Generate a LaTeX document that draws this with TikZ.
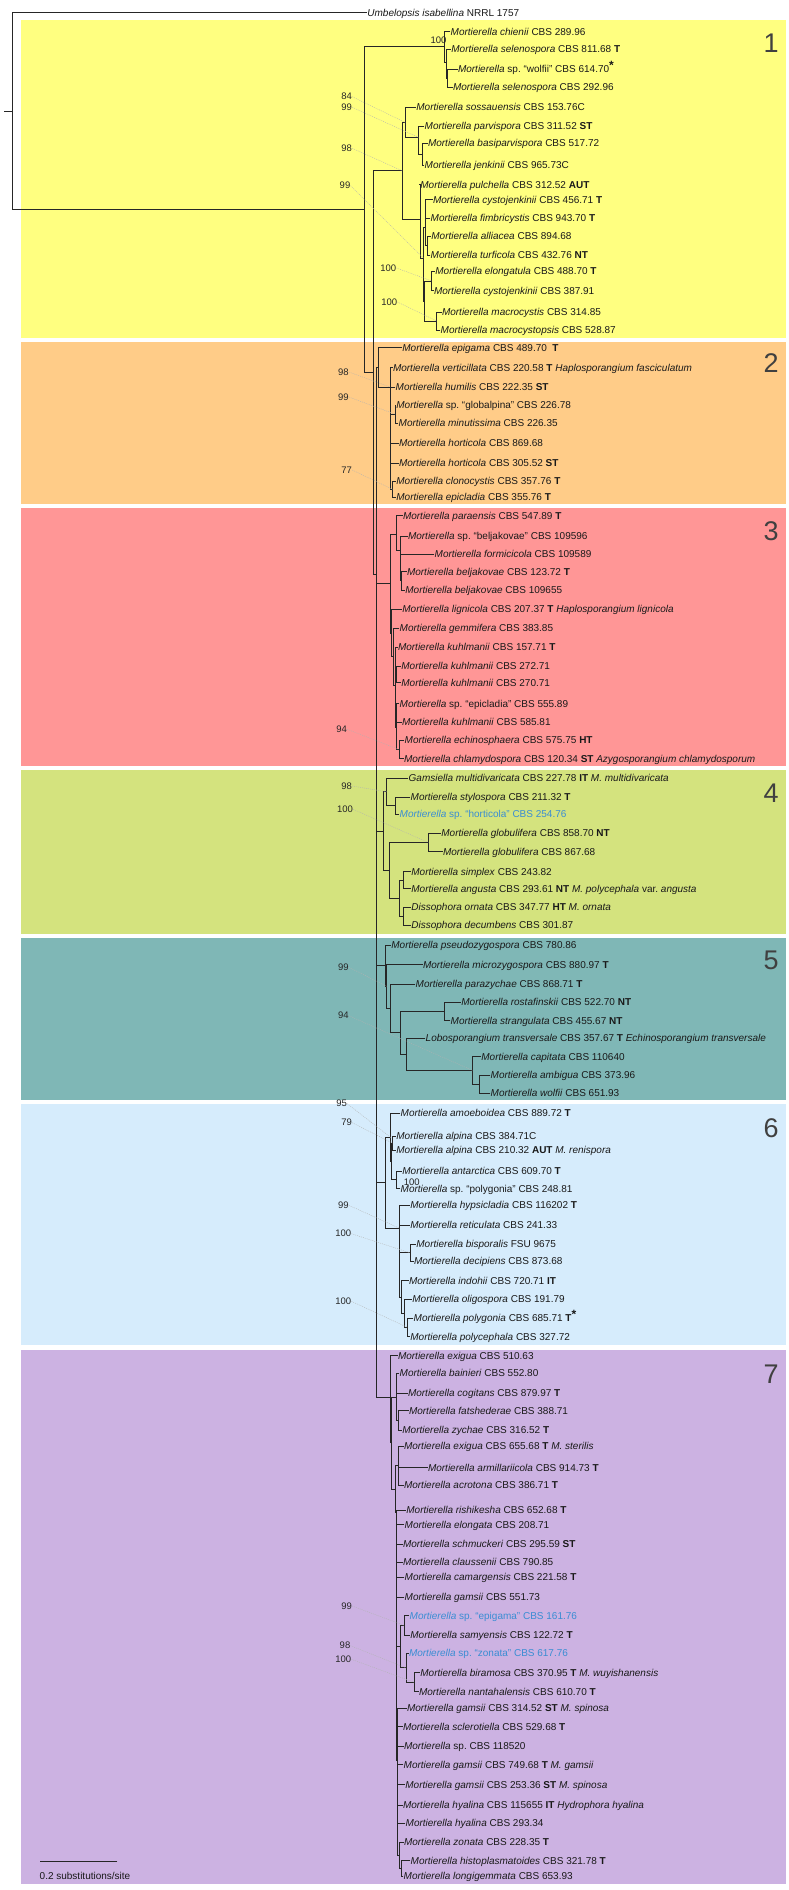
\documentclass[tikz,border=0pt]{standalone}
\usepackage{fontspec}
\setmainfont{Liberation Sans}
\usetikzlibrary{calc}
\frenchspacing
\definecolor{cyel}{HTML}{FFFF80}
\definecolor{cora}{HTML}{FFCC88}
\definecolor{cred}{HTML}{FF9696}
\definecolor{cgrn}{HTML}{D4E37E}
\definecolor{ctea}{HTML}{7FB7B6}
\definecolor{cblu}{HTML}{D6ECFC}
\definecolor{cpur}{HTML}{CCB2E2}
\definecolor{tblue}{HTML}{3A8DD3}
\newcommand\tn[5]{\coordinate (#1) at (#2,#3); \draw[branch] (#1 |- #4) -- (#1 |- #5);}
\newcommand\kids[2]{\foreach \ch in {#2}{\draw[branch] (#1 |- \ch) -- (\ch);}}
\newcommand\lf[4]{\node[leaf] (#1) at ({#2-1},#3) {#4};}
\newcommand\bs[4]{\node[bsv] (#1) at (#2,#3) {#4};}
\newcommand\Mi[1]{\textit{Mortierella #1}}
\newcommand\Ms{\textit{Mortierella} sp.}
\newcommand\bstar{\raisebox{2.6pt}{\fontsize{12}{12}\selectfont\textbf{*}}}
\begin{document}
\frenchspacing
\begin{tikzpicture}[x=1pt,y=-1pt,
 branch/.style={line width=0.7pt, draw=black!85, line cap=rect},
 leaf/.style={anchor=west, inner sep=0.5pt, text height=7pt, text depth=0pt, font=\fontsize{10}{12}\selectfont\frenchspacing, text=black!90},
 bsv/.style={inner sep=0pt, font=\fontsize{9.5}{11}\selectfont, text=black!85},
 leader/.style={draw=black!30, line width=0.35pt, dash pattern=on 1pt off 1pt},
 cnum/.style={font=\fontsize{27}{30}\selectfont, text=black!75}]
\fill[white] (0,0) rectangle (789,1890);
\useasboundingbox (0,0) rectangle (789,1890);
% clade boxes
\fill[cyel] (21,20) rectangle (786,337.7);
\fill[cora] (21,341.5) rectangle (786,504);
\fill[cred] (21,507.5) rectangle (786,766.3);
\fill[cgrn] (21,770.3) rectangle (786,934);
\fill[ctea] (21,937.7) rectangle (786,1100.3);
\fill[cblu] (21,1103.8) rectangle (786,1344.5);
\fill[cpur] (21,1349.5) rectangle (786,1884);
% clade numbers
\node[cnum] (n1) at (771,43.3) {1};
\node[cnum] (n2) at (771,362.7) {2};
\node[cnum] (n3) at (771,531.3) {3};
\node[cnum] (n4) at (771,793.7) {4};
\node[cnum] (n5) at (771,960) {5};
\node[cnum] (n6) at (771,1127.7) {6};
\node[cnum] (n7) at (771,1374) {7};
% leaves
\lf{L0}{367.7}{12.7}{\textit{Umbelopsis isabellina} NRRL 1757}
\lf{L1}{451}{31.7}{\Mi{chienii} CBS 289.96}
\lf{L2}{451.7}{49.3}{\Mi{selenospora} CBS 811.68 \textbf{T}}
\lf{L3}{458.3}{69}{\Ms{} “wolfii” CBS 614.70\bstar}
\lf{L4}{453.3}{87.3}{\Mi{selenospora} CBS 292.96}
\lf{L5}{416.7}{107.3}{\Mi{sossauensis} CBS 153.76C}
\lf{L6}{425}{126}{\Mi{parvispora} CBS 311.52 \textbf{ST}}
\lf{L7}{428.3}{143.3}{\Mi{basiparvispora} CBS 517.72}
\lf{L8}{425}{165.3}{\Mi{jenkinii} CBS 965.73C}
\lf{L9}{420.7}{184.7}{\Mi{pulchella} CBS 312.52 \textbf{AUT}}
\lf{L10}{433.3}{199.7}{\Mi{cystojenkinii} CBS 456.71 \textbf{T}}
\lf{L11}{431}{218}{\Mi{fimbricystis} CBS 943.70 \textbf{T}}
\lf{L12}{431.7}{236.3}{\Mi{alliacea} CBS 894.68}
\lf{L13}{431}{255.3}{\Mi{turficola} CBS 432.76 \textbf{NT}}
\lf{L14}{435.7}{271.3}{\Mi{elongatula} CBS 488.70 \textbf{T}}
\lf{L15}{434.3}{290.7}{\Mi{cystojenkinii} CBS 387.91}
\lf{L16}{442.3}{312}{\Mi{macrocystis} CBS 314.85}
\lf{L17}{441}{330}{\Mi{macrocystopsis} CBS 528.87}
\lf{L18}{402.7}{347.7}{\Mi{epigama} CBS 489.70\ \ \textbf{T}}
\lf{L19}{393.3}{367.7}{\Mi{verticillata} CBS 220.58 \textbf{T} \textit{Haplosporangium fasciculatum}}
\lf{L20}{396}{387}{\Mi{humilis} CBS 222.35 \textbf{ST}}
\lf{L21}{396.7}{405.3}{\Ms{} “globalpina” CBS 226.78}
\lf{L22}{399}{423.3}{\Mi{minutissima} CBS 226.35}
\lf{L23}{399.3}{443.3}{\Mi{horticola} CBS 869.68}
\lf{L24}{399.3}{463}{\Mi{horticola} CBS 305.52 \textbf{ST}}
\lf{L25}{396.7}{481.3}{\Mi{clonocystis} CBS 357.76 \textbf{T}}
\lf{L26}{396.7}{497.3}{\Mi{epicladia} CBS 355.76 \textbf{T}}
\lf{L27}{403.3}{515.7}{\Mi{paraensis} CBS 547.89 \textbf{T}}
\lf{L28}{408.3}{536.3}{\Ms{} “beljakovae” CBS 109596}
\lf{L29}{435}{554}{\Mi{formicicola} CBS 109589}
\lf{L30}{407.3}{571.7}{\Mi{beljakovae} CBS 123.72 \textbf{T}}
\lf{L31}{405.7}{590}{\Mi{beljakovae} CBS 109655}
\lf{L32}{402.7}{609}{\Mi{lignicola} CBS 207.37 \textbf{T} \textit{Haplosporangium lignicola}}
\lf{L33}{400}{628}{\Mi{gemmifera} CBS 383.85}
\lf{L34}{398.3}{647}{\Mi{kuhlmanii} CBS 157.71 \textbf{T}}
\lf{L35}{401.7}{666.3}{\Mi{kuhlmanii} CBS 272.71}
\lf{L36}{401.7}{682.7}{\Mi{kuhlmanii} CBS 270.71}
\lf{L37}{400}{703.7}{\Ms{} “epicladia” CBS 555.89}
\lf{L38}{402.3}{722}{\Mi{kuhlmanii} CBS 585.81}
\lf{L39}{405}{740.3}{\Mi{echinosphaera} CBS 575.75 \textbf{HT}}
\lf{L40}{404.3}{758.7}{\Mi{chlamydospora} CBS 120.34 \textbf{ST} \textit{Azygosporangium chlamydosporum}}
\lf{L41}{409}{778}{\textit{Gamsiella multidivaricata} CBS 227.78 \textbf{IT} \textit{M. multidivaricata}}
\lf{L42}{411}{797.3}{\Mi{stylospora} CBS 211.32 \textbf{T}}
\lf{L43}{400}{814}{\color{tblue}\Ms{} “horticola” CBS 254.76}
\lf{L44}{441.7}{833.3}{\Mi{globulifera} CBS 858.70 \textbf{NT}}
\lf{L45}{443.3}{851.7}{\Mi{globulifera} CBS 867.68}
\lf{L46}{411.7}{871.7}{\Mi{simplex} CBS 243.82}
\lf{L47}{411.7}{888.7}{\Mi{angusta} CBS 293.61 \textbf{NT} \textit{M. polycephala} var. \textit{angusta}}
\lf{L48}{411.7}{907.3}{\textit{Dissophora ornata} CBS 347.77 \textbf{HT} \textit{M. ornata}}
\lf{L49}{411.7}{925.3}{\textit{Dissophora decumbens} CBS 301.87}
\lf{L50}{391.7}{945}{\Mi{pseudozygospora} CBS 780.86}
\lf{L51}{423.3}{964.7}{\Mi{microzygospora} CBS 880.97 \textbf{T}}
\lf{L52}{416}{984}{\Mi{parazychae} CBS 868.71 \textbf{T}}
\lf{L53}{461.7}{1002}{\Mi{rostafinskii} CBS 522.70 \textbf{NT}}
\lf{L54}{451}{1020.7}{\Mi{strangulata} CBS 455.67 \textbf{NT}}
\lf{L55}{426}{1038}{\textit{Lobosporangium transversale} CBS 357.67 \textbf{T} \textit{Echinosporangium transversale}}
\lf{L56}{481.7}{1056.7}{\Mi{capitata} CBS 110640}
\lf{L57}{491}{1075.3}{\Mi{ambigua} CBS 373.96}
\lf{L58}{491}{1093.3}{\Mi{wolfii} CBS 651.93}
\lf{L59}{401}{1113.3}{\Mi{amoeboidea} CBS 889.72 \textbf{T}}
\lf{L60}{396.7}{1136}{\Mi{alpina} CBS 384.71C}
\lf{L61}{396.7}{1150.3}{\Mi{alpina} CBS 210.32 \textbf{AUT} \textit{M. renispora}}
\lf{L62}{402.7}{1171}{\Mi{antarctica} CBS 609.70 \textbf{T}}
\lf{L63}{401}{1188.7}{\Ms{} “polygonia” CBS 248.81}
\lf{L64}{410.7}{1205.3}{\Mi{hypsicladia} CBS 116202 \textbf{T}}
\lf{L65}{410.7}{1225.3}{\Mi{reticulata} CBS 241.33}
\lf{L66}{416.7}{1244.3}{\Mi{bisporalis} FSU 9675}
\lf{L67}{414.3}{1261.3}{\Mi{decipiens} CBS 873.68}
\lf{L68}{409.3}{1280.7}{\Mi{indohii} CBS 720.71 \textbf{IT}}
\lf{L69}{412.7}{1299}{\Mi{oligospora} CBS 191.79}
\lf{L70}{414}{1318}{\Mi{polygonia} CBS 685.71 \textbf{T}\bstar}
\lf{L71}{410.7}{1336.7}{\Mi{polycephala} CBS 327.72}
\lf{L72}{398.3}{1355.7}{\Mi{exigua} CBS 510.63}
\lf{L73}{400}{1373.3}{\Mi{bainieri} CBS 552.80}
\lf{L74}{408.3}{1393}{\Mi{cogitans} CBS 879.97 \textbf{T}}
\lf{L75}{409.3}{1410.7}{\Mi{fatshederae} CBS 388.71}
\lf{L76}{402.7}{1430.3}{\Mi{zychae} CBS 316.52 \textbf{T}}
\lf{L77}{404.3}{1446.3}{\Mi{exigua} CBS 655.68 \textbf{T} \textit{M. sterilis}}
\lf{L78}{428.3}{1467.7}{\Mi{armillariicola} CBS 914.73 \textbf{T}}
\lf{L79}{404.3}{1485.3}{\Mi{acrotona} CBS 386.71 \textbf{T}}
\lf{L80}{406.7}{1510.3}{\Mi{rishikesha} CBS 652.68 \textbf{T}}
\lf{L81}{405}{1524.7}{\Mi{elongata} CBS 208.71}
\lf{L82}{403.3}{1544.3}{\Mi{schmuckeri} CBS 295.59 \textbf{ST}}
\lf{L83}{403.3}{1562}{\Mi{claussenii} CBS 790.85}
\lf{L84}{405}{1577}{\Mi{camargensis} CBS 221.58 \textbf{T}}
\lf{L85}{405}{1597.3}{\Mi{gamsii} CBS 551.73}
\lf{L86}{410}{1615.7}{\color{tblue}\Ms{} “epigama” CBS 161.76}
\lf{L87}{410.7}{1635}{\Mi{samyensis} CBS 122.72 \textbf{T}}
\lf{L88}{409.3}{1653.3}{\color{tblue}\Ms{} “zonata” CBS 617.76}
\lf{L89}{420.7}{1672.7}{\Mi{biramosa} CBS 370.95 \textbf{T} \textit{M. wuyishanensis}}
\lf{L90}{419.3}{1691.7}{\Mi{nantahalensis} CBS 610.70 \textbf{T}}
\lf{L91}{407.3}{1708.3}{\Mi{gamsii} CBS 314.52 \textbf{ST} \textit{M. spinosa}}
\lf{L92}{403.3}{1726.7}{\Mi{sclerotiella} CBS 529.68 \textbf{T}}
\lf{L93}{404.3}{1746.3}{\Ms{} CBS 118520}
\lf{L94}{404}{1764.7}{\Mi{gamsii} CBS 749.68 \textbf{T} \textit{M. gamsii}}
\lf{L95}{405.7}{1784.7}{\Mi{gamsii} CBS 253.36 \textbf{ST} \textit{M. spinosa}}
\lf{L96}{403.3}{1805.3}{\Mi{hyalina} CBS 115655 \textbf{IT} \textit{Hydrophora hyalina}}
\lf{L97}{406}{1823}{\Mi{hyalina} CBS 293.34}
\lf{L98}{404.3}{1842}{\Mi{zonata} CBS 228.35 \textbf{T}}
\lf{L99}{411}{1860.7}{\Mi{histoplasmatoides} CBS 321.78 \textbf{T}}
\lf{L100}{404}{1876.3}{\Mi{longigemmata} CBS 653.93}
% internal nodes (bottom-up)
\tn{A3}{447.7}{78}{L3}{L4} \kids{A3}{L3,L4}
\tn{A2}{446}{62}{L2}{A3} \kids{A2}{L2,A3}
\tn{A}{444}{46.7}{L1}{A2} \kids{A}{L1,A2}
\tn{S3}{422}{154.3}{L7}{L8} \kids{S3}{L7,L8}
\tn{S2}{418.3}{137.3}{L6}{S3} \kids{S2}{L6,S3}
\tn{S}{405}{122.3}{L5}{S2} \kids{S}{L5,S2}
\tn{P3b}{427}{245.8}{L12}{L13} \kids{P3b}{L12,L13}
\tn{P3}{425}{227.5}{L10}{P3b} \kids{P3}{L10,L11,P3b}
\tn{E}{431.7}{281}{L14}{L15} \kids{E}{L14,L15}
\tn{Mac}{436.7}{321}{L16}{L17} \kids{Mac}{L16,L17}
\tn{P4}{424.7}{301}{E}{Mac} \kids{P4}{E,Mac}
\tn{P2}{423.3}{258}{P3}{P4} \kids{P2}{P3,P4}
\tn{P}{420}{219}{L9}{P2} \kids{P}{L9,P2}
\tn{C1b}{402}{170.7}{S}{P} \kids{C1b}{S,P}
\tn{C2g}{395.5}{414.3}{L21}{L22} \kids{C2g}{L21,L22}
\tn{C2h}{392.5}{489.3}{L25}{L26} \kids{C2h}{L25,L26}
\tn{C2b}{390}{387}{L19}{C2h} \kids{C2b}{L19,L20,C2g,L23,L24,C2h}
\tn{C2}{378.5}{367.7}{L18}{C2b} \kids{C2}{L18,C2b}
\tn{C3a3}{401.5}{580.8}{L30}{L31} \kids{C3a3}{L30,L31}
\tn{C3a2}{400}{550.7}{L28}{C3a3} \kids{C3a2}{L28,L29,C3a3}
\tn{C3a}{396}{534}{L27}{C3a2} \kids{C3a}{L27,C3a2}
\tn{C3e}{396.7}{674.5}{L35}{L36} \kids{C3e}{L35,L36}
\tn{C3g}{399}{749.5}{L39}{L40} \kids{C3g}{L39,L40}
\tn{C3f}{396.5}{727}{L37}{C3g} \kids{C3f}{L37,L38,C3g}
\tn{C3d}{395}{685}{L34}{C3f} \kids{C3d}{L34,C3e,C3f}
\tn{C3c}{393}{656}{L33}{C3d} \kids{C3c}{L33,C3d}
\tn{C3b}{391.7}{633}{L32}{C3c} \kids{C3b}{L32,C3c}
\tn{C3}{390}{583.3}{C3a}{C3b} \kids{C3}{C3a,C3b}
\tn{C4g2}{395}{805.7}{L42}{L43} \kids{C4g2}{L42,L43}
\tn{C4g1}{386.7}{791.8}{L41}{C4g2} \kids{C4g1}{L41,C4g2}
\tn{G}{428.3}{842.5}{L44}{L45} \kids{G}{L44,L45}
\tn{SA}{403.3}{880.2}{L46}{L47} \kids{SA}{L46,L47}
\tn{Diss}{403.3}{916.3}{L48}{L49} \kids{Diss}{L48,L49}
\tn{SD}{399.3}{898.3}{SA}{Diss} \kids{SD}{SA,Diss}
\tn{GSD}{389.3}{870.4}{G}{SD} \kids{GSD}{G,SD}
\tn{C4}{383.3}{831}{C4g1}{GSD} \kids{C4}{C4g1,GSD}
\tn{AW}{479.3}{1084.3}{L57}{L58} \kids{AW}{L57,L58}
\tn{CAP}{472.7}{1070.5}{L56}{AW} \kids{CAP}{L56,AW}
\tn{LC}{406}{1054.2}{L55}{CAP} \kids{LC}{L55,CAP}
\tn{RS}{444.3}{1011.3}{L53}{L54} \kids{RS}{L53,L54}
\tn{RSLC}{400}{1032}{RS}{LC} \kids{RSLC}{RS,LC}
\tn{PR}{390}{1008}{L52}{RSLC} \kids{PR}{L52,RSLC}
\tn{C5b}{386.7}{986.3}{L51}{PR} \kids{C5b}{L51,PR}
\tn{C5}{385}{965.7}{L50}{C5b} \kids{C5}{L50,C5b}
\tn{Alp}{392.7}{1143.2}{L60}{L61} \kids{Alp}{L60,L61}
\tn{AP}{396.7}{1179.8}{L62}{L63} \kids{AP}{L62,L63}
\tn{C6a2}{391.7}{1161.5}{Alp}{AP} \kids{C6a2}{Alp,AP}
\tn{C6a}{390.7}{1137.4}{L59}{C6a2} \kids{C6a}{L59,C6a2}
\tn{BD}{410}{1252.8}{L66}{L67} \kids{BD}{L66,L67}
\tn{PP}{407.3}{1327.3}{L70}{L71} \kids{PP}{L70,L71}
\tn{C6d}{404.7}{1313.2}{L69}{PP} \kids{C6d}{L69,PP}
\tn{C6c}{401.7}{1297}{L68}{C6d} \kids{C6c}{L68,C6d}
\tn{C6b}{399}{1228}{L64}{C6c} \kids{C6b}{L64,L65,BD,C6c}
\tn{C6}{385}{1182}{C6a}{C6b} \kids{C6}{C6a,C6b}
\tn{C7c2}{398}{1420.5}{L75}{L76} \kids{C7c2}{L75,L76}
\tn{C7c}{396}{1397}{L73}{C7c2} \kids{C7c}{L73,L74,C7c2}
\tn{C7e}{398.3}{1465.8}{L77}{L79} \kids{C7e}{L77,L78,L79}
\tn{EpS}{404.3}{1625.4}{L86}{L87} \kids{EpS}{L86,L87}
\tn{BN}{414}{1682.2}{L89}{L90} \kids{BN}{L89,L90}
\tn{ZB}{406}{1667.8}{L88}{BN} \kids{ZB}{L88,BN}
\tn{C7h}{400}{1646.6}{EpS}{ZB} \kids{C7h}{EpS,ZB}
\tn{HL}{401.7}{1868.5}{L99}{L100} \kids{HL}{L99,L100}
\tn{ZHL}{399.3}{1855.3}{L98}{HL} \kids{ZHL}{L98,HL}
\tn{C7i}{397.5}{1760}{L91}{ZHL} \kids{C7i}{L91,L92,L93,L94,L95,L96,L97,ZHL}
\tn{C7f}{396}{1512}{L80}{C7i} \kids{C7f}{L80,L81,L82,L83,L84,L85,C7h,C7i}
\tn{C7d}{395}{1489}{C7e}{C7f} \kids{C7d}{C7e,C7f}
\tn{C7b}{391.7}{1442}{C7c}{C7d} \kids{C7b}{C7c,C7d}
\tn{C7}{390}{1397.3}{L72}{C7b} \kids{C7}{L72,C7b}
\tn{D}{376.5}{574}{C2}{C7} \kids{D}{C2,C3,C4,C5,C6,C7}
\tn{B}{373.3}{372.7}{C1b}{D} \kids{B}{C1b,D}
\tn{M}{364}{209.7}{A}{B} \kids{M}{A,B}
\tn{R}{12}{111.2}{L0}{M} \kids{R}{L0,M}
\coordinate (rs) at (4,111.2);
\draw[branch] (rs) -- (R);
% support values
\bs{b1}{438.5}{40.7}{100}
\bs{b2}{346.7}{96.7}{84}
\bs{b3}{346.7}{107.3}{99}
\bs{b4}{346.7}{148.3}{98}
\bs{b5}{345}{185.7}{99}
\bs{b6}{388.3}{268}{100}
\bs{b7}{389.3}{302}{100}
\bs{b8}{343.3}{372}{98}
\bs{b9}{343.3}{397}{99}
\bs{b10}{346.7}{470}{77}
\bs{b11}{341.7}{729.3}{94}
\bs{b12}{346.7}{786}{98}
\bs{b13}{345}{809.3}{100}
\bs{b14}{343.3}{967.3}{99}
\bs{b15}{343.3}{1015.7}{94}
\bs{b16}{341.7}{1103.7}{95}
\bs{b17}{346.7}{1122.7}{79}
\bs{b18}{411.7}{1182}{100}
\bs{b19}{343.3}{1205.3}{99}
\bs{b20}{343.3}{1233.7}{100}
\bs{b21}{343.3}{1301.3}{100}
\bs{b22}{346.7}{1606}{99}
\bs{b23}{345}{1645.7}{98}
\bs{b24}{343.3}{1659.3}{100}
% leaders
\draw[leader] (b2.east) -- (S);
\draw[leader] (b3.east) -- (S2);
\draw[leader] (b4.east) -- (C1b);
\draw[leader] (b5.east) -- (P2);
\draw[leader] (b6.east) -- (E);
\draw[leader] (b7.east) -- (Mac);
\draw[leader] (b8.east) -- (C2b);
\draw[leader] (b9.east) -- (C2g);
\draw[leader] (b10.east) -- (C2h);
\draw[leader] (b11.east) -- (C3g);
\draw[leader] (b12.east) -- (C4g1);
\draw[leader] (b13.east) -- (G);
\draw[leader] (b14.east) -- (C5b);
\draw[leader] (b15.east) -- (CAP);
\draw[leader] (b16.east) -- (C6a);
\draw[leader] (b17.east) -- (Alp);
\draw[leader] (b19.east) -- (C6b);
\draw[leader] (b20.east) -- (BD);
\draw[leader] (b21.east) -- (PP);
\draw[leader] (b22.east) -- (EpS);
\draw[leader] (b23.east) -- (ZB);
\draw[leader] (b24.east) -- (BN);
% scale bar
\coordinate (sb1) at (40,1861);
\coordinate (sb2) at (117,1861);
\draw[branch] (sb1) -- (sb2);
\node[leaf] (sbt) at (39,1876) {0.2 substitutions/site};
\end{tikzpicture}
\end{document}
